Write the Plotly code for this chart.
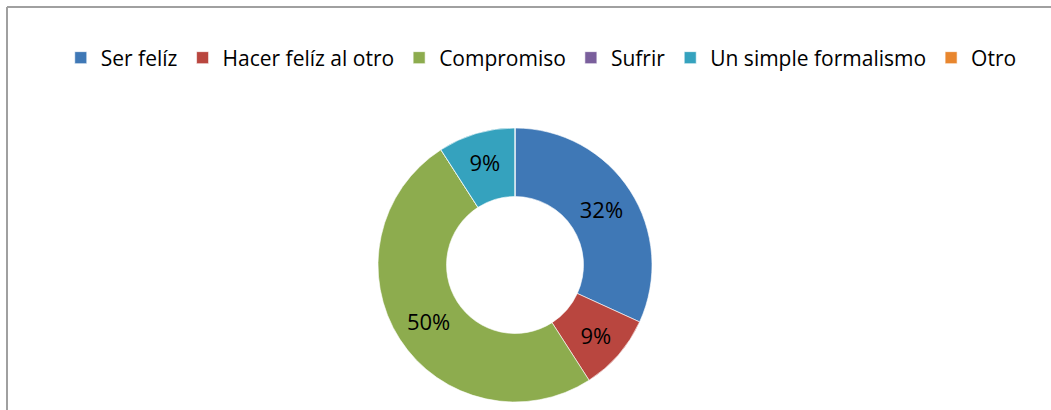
import plotly.graph_objects as go

labels = ["Ser felíz", "Hacer felíz al otro", "Compromiso", "Sufrir", "Un simple formalismo", "Otro"]
values = [7, 2, 11, 0, 2, 0]
colors = ["#3f78b6", "#b9463f", "#8dac4e", "#7a5f9c", "#35a2be", "#e8862e"]

W, H = 1051, 410
cx, cy, r = 515, 265, 137

fig = go.Figure(go.Pie(
    labels=labels,
    values=values,
    hole=0.5,
    sort=False,
    direction="clockwise",
    rotation=0,
    marker=dict(colors=colors, line=dict(color="rgba(255,255,255,0.6)", width=1)),
    texttemplate="%{percent:.0%}",
    textposition="inside",
    insidetextorientation="horizontal",
    textfont=dict(size=22, color="#000000", family="Open Sans"),
    domain=dict(x=[(cx - r) / W, (cx + r) / W], y=[(H - cy - r) / H, (H - cy + r) / H]),
    showlegend=True,
))

fig.update_layout(
    width=W, height=H,
    margin=dict(l=0, r=0, t=0, b=0),
    paper_bgcolor="white",
    plot_bgcolor="white",
    font=dict(family="Open Sans", color="#000000"),
    legend=dict(
        orientation="h",
        x=0.515, xanchor="center",
        y=1 - 58 / H, yanchor="middle",
        font=dict(size=21, family="Open Sans"),
        itemwidth=30,
        tracegroupgap=0,
    ),
    shapes=[
        dict(type="line", xref="paper", yref="paper", x0=7 / W, x1=1.0, y0=1 - 7 / H, y1=1 - 7 / H,
             line=dict(color="#a0a0a0", width=2)),
        dict(type="line", xref="paper", yref="paper", x0=7 / W, x1=7 / W, y0=0, y1=1 - 7 / H,
             line=dict(color="#a0a0a0", width=2)),
    ],
)

fig.write_html("out.html", config={"displayModeBar": False},
               post_script="document.body.style.margin='0';")
